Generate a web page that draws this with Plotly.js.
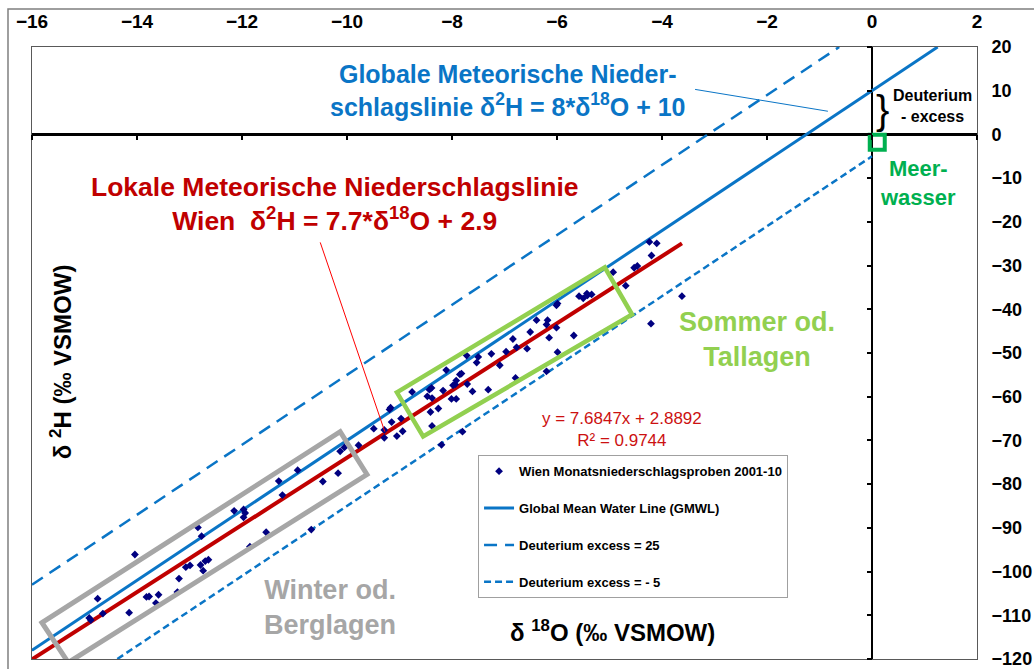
<!DOCTYPE html>
<html><head><meta charset="utf-8">
<script src="https://cdn.plot.ly/plotly-3.0.1.min.js"></script>
<style>html,body{margin:0;padding:0;background:#fff}#chart{width:1034px;height:669px}</style>
</head><body><div id="chart"></div>
<script>
// Monthly precipitation samples Vienna 2001-10 (δ18O, δ2H)
const o18 = [-14.91,-14.88,-14.75,-14.65,-14.15,-14.04,-13.82,-13.77,-13.59,-13.64,
  -13.23,-13.20,-13.07,-12.99,-12.84,-12.79,-12.77,-12.74,-12.70,-12.64,
  -12.15,-11.97,-11.94,-11.97,-11.85,-11.54,-11.30,-11.23,-10.94,-10.68,
  -10.46,-10.17,-10.13,-10.05,-9.78,-9.49,-9.29,-9.29,-9.15,-9.19,
  -9.17,-9.05,-8.94,-8.97,-8.76,-8.47,-8.43,-8.39,-8.38,-8.41,
  -8.26,-8.38,-8.17,-8.11,-8.01,-7.92,-7.98,-7.94,-7.92,-7.85,
  -7.82,-7.71,-7.72,-7.61,-7.53,-7.50,-7.31,-7.25,-7.09,-6.97,
  -6.84,-6.77,-6.79,-6.57,-6.51,-6.39,-6.20,-6.20,-6.18,-6.15,
  -6.01,-5.99,-6.01,-5.99,-5.68,-4.21,-7.80,-8.20,-5.58,-5.50,
  -5.43,-5.42,-5.34,-4.93,-4.69,-4.53,-4.47,-4.24,-4.10,-4.20,-3.62];
const h2 = [-110.6,-111.1,-106.2,-109.6,-109.4,-96.1,-105.8,-105.7,-105.3,-107.2,
  -104.7,-101.6,-99.0,-98.6,-89.9,-98.5,-91.9,-99.8,-97.6,-97.3,
  -86.1,-85.8,-86.6,-87.6,-94.3,-91.0,-79.3,-82.5,-76.8,-90.4,
  -79.4,-77.5,-72.5,-71.6,-71.1,-67.3,-67.6,-69.4,-65.8,-62.9,
  -62.5,-69.0,-67.9,-65.0,-58.9,-59.9,-58.4,-58.0,-60.3,-63.5,
  -62.7,-66.7,-58.6,-53.9,-60.5,-60.5,-57.4,-57.2,-56.3,-54.9,
  -54.7,-57.1,-50.6,-58.8,-52.2,-50.9,-58.4,-50.2,-52.8,-49.7,
  -46.8,-48.7,-55.7,-49.0,-45.2,-42.5,-54.2,-43.5,-42.5,-46.5,
  -44.2,-49.8,-39.1,-38.7,-46.0,-43.3,-68.0,-71.0,-37.0,-37.5,
  -36.4,-36.8,-36.6,-31.5,-34.6,-30.5,-30.1,-24.6,-24.9,-27.7,-37.0];

// Line end points
const gmwlX = [-16, 1.25],   gmwlY = [-118, 20];
const dex25X = [-16, -0.625], dex25Y = [-103, 20];
const dexm5X = [-14.375, 0],  dexm5Y = [-120, -5];
const lmwlX = [-16, -3.62],  lmwlY = [-120.07, -24.93];
const seaX = [0.1], seaY = [-1.8];

// Highlight boxes (corner points, data units)
const winterBoxX = [-15.81, -10.13, -9.62, -15.31], winterBoxY = [-111.7, -68.0, -77.8, -120.8];
const summerBoxX = [-9.05, -5.09, -4.57, -8.55],    summerBoxY = [-59.0, -30.4, -41.2, -69.1];
const blueLeaderX = [-3.37, -0.84], blueLeaderY = [10.3, 5.3];
const redLeaderX = [-10.51, -9.28], redLeaderY = [-24.7, -68.0];

const legendNames = ['Wien Monatsniederschlagsproben 2001-10','Global Mean Water Line (GMWL)','Deuterium excess = 25','Deuterium excess = - 5'];

const BLUE = '#0a75c6', RED = '#c00000', NAVY = '#000080';
const FONT = '"Liberation Sans", Arial, sans-serif';

function boxPath(xs, ys){
  return 'M ' + xs.map((x,i)=> x + ',' + ys[i]).join(' L ') + ' Z';
}

const traces = [
  {x: dex25X, y: dex25Y, mode:'lines', name: legendNames[2], legendrank:3, legendgroup:'c',
   line:{color:BLUE, width:2.5, dash:'13px,8px'}, hoverinfo:'skip'},
  {x: dexm5X, y: dexm5Y, mode:'lines', name: legendNames[3], legendrank:4, legendgroup:'d',
   line:{color:BLUE, width:2.5, dash:'7px,4px'}, hoverinfo:'skip'},
  {x: gmwlX, y: gmwlY, mode:'lines', name: legendNames[1], legendrank:2, legendgroup:'b',
   line:{color:BLUE, width:3}, hoverinfo:'skip'},
  {x: lmwlX, y: lmwlY, mode:'lines', showlegend:false,
   line:{color:RED, width:4}, hoverinfo:'skip'},
  {x: o18, y: h2, mode:'markers', name: legendNames[0], legendrank:1, legendgroup:'a',
   marker:{symbol:'diamond', size:6, color:NAVY}},
  {x: seaX, y: seaY, mode:'markers', showlegend:false,
   marker:{symbol:'square-open', size:15, color:'#00b050', line:{width:4, color:'#00b050'}}},
  {x:[null], y:[null], xaxis:'x2', yaxis:'y', showlegend:false, hoverinfo:'skip'},
  {x:[null], y:[null], xaxis:'x', yaxis:'y2', showlegend:false, hoverinfo:'skip'}
];

function ann(x, y, text, size, color, bold, extra){
  return Object.assign({x:x, y:y, xref:'x', yref:'y', text:text, showarrow:false,
    font:{family:FONT, size:size, color:color, weight: bold ? 'bold' : 'normal'}}, extra||{});
}

const layout = {
  width:1034, height:669,
  margin:{l:32, r:57, t:47, b:10},
  paper_bgcolor:'#fff', plot_bgcolor:'#fff',
  font:{family:FONT, color:'#000'},
  showlegend:true,
  legend:{x:0.472, y:0.333, xanchor:'left', yanchor:'top', bgcolor:'#fff',
    bordercolor:'#a0a0a0', borderwidth:1, traceorder:'grouped', tracegroupgap:17,
    font:{family:FONT, size:13, color:'#000', weight:'bold'}},
  xaxis:{range:[-16,2], side:'top', tick0:0, dtick:2, showgrid:false,
    zeroline:true, zerolinecolor:'#000', zerolinewidth:2.5,
    showline:true, mirror:true, linecolor:'#595959', linewidth:1,
    ticks:'', ticklabelstandoff:10, ticklabeloverflow:'allow',
    tickfont:{family:FONT, size:19, weight:'bold', color:'#000'}},
  yaxis:{range:[-120,20], side:'right', tick0:0, dtick:10, showgrid:false,
    zeroline:true, zerolinecolor:'#000', zerolinewidth:2.5,
    showline:true, mirror:true, linecolor:'#595959', linewidth:1,
    ticks:'', ticklabelstandoff:10, ticklabeloverflow:'allow',
    tickfont:{family:FONT, size:18, weight:'bold', color:'#000'}},
  xaxis2:{range:[-16,2], overlaying:'x', anchor:'free', position:120/140, side:'bottom',
    tick0:0, dtick:2, ticks:'outside', ticklen:5, tickwidth:2, tickcolor:'#000',
    showticklabels:false, showgrid:false, zeroline:false, showline:false},
  yaxis2:{range:[-120,20], overlaying:'y', anchor:'free', position:16/18, side:'left',
    tick0:0, dtick:10, ticks:'outside', ticklen:5, tickwidth:2, tickcolor:'#000',
    showticklabels:false, showgrid:false, zeroline:false, showline:false},
  shapes:[
    {type:'rect', xref:'paper', yref:'paper', x0:-0.0254, x1:1.2, y0:-0.2, y1:1.062,
     line:{color:'#7f7f7f', width:1.5}, layer:'below'},
    {type:'path', xref:'x', yref:'y', path: boxPath(winterBoxX, winterBoxY),
     line:{color:'#a6a6a6', width:5}},
    {type:'path', xref:'x', yref:'y', path: boxPath(summerBoxX, summerBoxY),
     line:{color:'#92d050', width:4.5}},
    {type:'line', xref:'x', yref:'y', x0:blueLeaderX[0], y0:blueLeaderY[0], x1:blueLeaderX[1], y1:blueLeaderY[1],
     line:{color:BLUE, width:1}},
    {type:'line', xref:'x', yref:'y', x0:redLeaderX[0], y0:redLeaderY[0], x1:redLeaderX[1], y1:redLeaderY[1],
     line:{color:'#ff0000', width:1}}
  ],
  annotations:[
    ann(-6.93, 10.1, 'Globale Meteorische Nieder-<br>schlagslinie δ<sup>2</sup>H = 8*δ<sup>18</sup>O + 10', 25, BLUE, true),
    ann(-10.23, -16.0, 'Lokale Meteorische Niederschlagslinie<br>Wien\u00a0\u00a0δ<sup>2</sup>H = 7.7*δ<sup>18</sup>O + 2.9', 26.5, RED, true),
    ann(-4.76, -67.5, 'y = 7.6847x + 2.8892<br>R² = 0.9744', 17, '#cc1111', false),
    ann(-2.19, -46.9, 'Sommer od.<br>Tallagen', 27, '#92d050', true),
    ann(-10.32, -108.2, 'Winter od.<br>Berglagen', 27, '#a6a6a6', true),
    ann(1.16, 6.4, 'Deuterium<br>- excess', 16, '#000', true),
    ann(0.2, 5.5, '}', 40, '#000', false),
    ann(0.88, -11.0, 'Meer-<br>wasser', 22, '#00b050', true),
    ann(-4.95, -113.7, 'δ <sup>18</sup>O (‰ VSMOW)', 24, '#000', true),
    ann(-15.45, -51.9, 'δ <sup>2</sup>H (‰ VSMOW)', 24, '#000', true, {textangle:-90})
  ]
};

Plotly.newPlot('chart', traces, layout, {displayModeBar:false, staticPlot:true});
</script>
</body></html>
